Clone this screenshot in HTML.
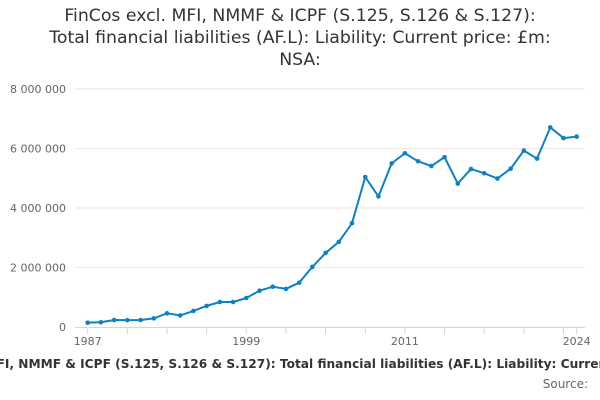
<!DOCTYPE html>
<html><head><meta charset="utf-8"><style>
body{margin:0;width:600px;height:400px;background:#fff;overflow:hidden;position:relative;font-family:"DejaVu Sans","Liberation Sans",sans-serif;}
#title{position:absolute;top:5px;left:0;width:600px;text-align:center;font-size:17.3px;line-height:22px;color:#333;}
#legend-box{position:absolute;top:355px;left:0;width:600px;height:20px;overflow:hidden;}
#legend{position:absolute;top:2px;left:-102px;white-space:nowrap;font-size:12.2px;font-weight:bold;color:#333;}
#source{position:absolute;top:377px;right:12px;font-size:12px;color:#666;}
svg{position:absolute;left:0;top:0;}
</style></head><body>
<div id="title">FinCos excl. MFI, NMMF &amp; ICPF (S.125, S.126 &amp; S.127):<br>Total financial liabilities (AF.L): Liability: Current price: £m:<br>NSA:</div>
<svg id="chart" width="600" height="400"></svg>
<div id="legend-box"><div id="legend">FinCos excl. MFI, NMMF &amp; ICPF (S.125, S.126 &amp; S.127): Total financial liabilities (AF.L): Liability: Current price: £m: NSA:</div></div>
<div id="source">Source:</div>
<script>
const years=[1987,1988,1989,1990,1991,1992,1993,1994,1995,1996,1997,1998,1999,2000,2001,2002,2003,2004,2005,2006,2007,2008,2009,2010,2011,2012,2013,2014,2015,2016,2017,2018,2019,2020,2021,2022,2023,2024];
const values=[145000,160000,235000,230000,235000,290000,460000,390000,540000,710000,840000,840000,975000,1220000,1355000,1280000,1490000,2020000,2490000,2860000,3490000,5040000,4390000,5500000,5840000,5570000,5410000,5710000,4820000,5310000,5170000,4990000,5320000,5930000,5660000,6710000,6350000,6400000];
const yTicks=[0,2000000,4000000,6000000,8000000];
const yTickLabels=["0","2 000 000","4 000 000","6 000 000","8 000 000"];
const xLabels=[1987,1999,2011,2024];
const NS="http://www.w3.org/2000/svg";
const svg=document.getElementById('chart');
const x=y=>87.7+(y-1987)*(489/37);
const yS=v=>327-v/8000000*238;
function mk(t,a){const e=document.createElementNS(NS,t);for(const k in a)e.setAttribute(k,a[k]);svg.appendChild(e);return e;}
yTicks.forEach((t,i)=>{
 if(t>0){const g=mk('line',{x1:75,x2:585,y1:yS(t),y2:yS(t),stroke:'#e6e6e6','stroke-width':1});
 
 }
 const l=mk('text',{x:66,y:yS(t)+4,'text-anchor':'end','font-size':11,fill:'#666'});
 l.textContent=yTickLabels[i];
 
 
});
const ax=mk('line',{x1:75,x2:585,y1:327.5,y2:327.5,stroke:'#ccd6eb','stroke-width':1});


for(let yr=1987;yr<=2024;yr+=3){
 const t=mk('line',{x1:x(yr),x2:x(yr),y1:327,y2:334,stroke:'#ccd6eb'});
 
 
}
const t2=mk('line',{x1:x(2024),x2:x(2024),y1:327,y2:334,stroke:'#ccd6eb'});


xLabels.forEach(yr=>{
 const l=mk('text',{x:x(yr),y:345,'text-anchor':'middle','font-size':11,fill:'#666'});
 l.textContent=yr;
 
 
});
const pts=years.map((yr,i)=>x(yr)+','+yS(values[i])).join(' ');
const line=mk('polyline',{points:pts,fill:'none',stroke:'#0e80c7','stroke-width':2,'stroke-linejoin':'round'});


years.forEach((yr,i)=>{
 const c=mk('circle',{cx:x(yr),cy:yS(values[i]),r:2.3,fill:'#0e80c7'});
 
 
});
</script>
</body></html>
